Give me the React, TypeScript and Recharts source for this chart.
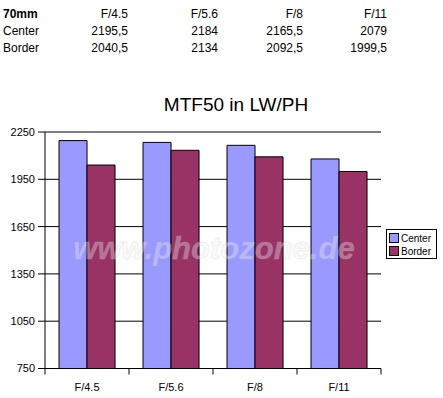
import React from 'react';
import { BarChart, Bar, XAxis, YAxis, CartesianGrid } from 'recharts';

const categories = ['F/4.5', 'F/5.6', 'F/8', 'F/11'];
const centerValues = [2195.5, 2184, 2165.5, 2079];
const borderValues = [2040.5, 2134, 2092.5, 1999.5];
const yTicks = [750, 1050, 1350, 1650, 1950, 2250];
const seriesNames = ['Center', 'Border'];
const focalLabel = '70mm';
const chartTitle = 'MTF50 in LW/PH';
const watermark = 'www.photozone.de';

const data = categories.map((c, i) => ({ name: c, Center: centerValues[i], Border: borderValues[i] }));

const W = 443;
const H = 398;
const PLOT_LEFT = 45;
const PLOT_RIGHT = 381;
const PLOT_TOP = 132;
const PLOT_BOTTOM = 368.5;
const FONT = 'Arial, "Liberation Sans", Helvetica, sans-serif';
const COLORS = ['#9999FF', '#993366'];

const fmt = (v: number) => String(v).replace('.', ',');

const halfBand = (PLOT_RIGHT - PLOT_LEFT) / categories.length / 2;

const XTick = (props: any) => {
  const { x, y, payload, index } = props;
  return (
    <g>
      {index === 0 && (
        <line x1={x - halfBand} y1={PLOT_BOTTOM} x2={x - halfBand} y2={PLOT_BOTTOM + 6} stroke="#000" />
      )}
      <line x1={x + halfBand} y1={PLOT_BOTTOM} x2={x + halfBand} y2={PLOT_BOTTOM + 6} stroke="#000" />
      <text x={x} y={y + 14} textAnchor="middle" fontSize={11} fontFamily={FONT} fill="#000">
        {payload.value}
      </text>
    </g>
  );
};

const colRight = [128, 218, 303, 387];

export default function App() {
  return (
    <div style={{ position: 'absolute', left: 0, top: 0, width: W, height: H, background: '#fff' }}>
      <BarChart
        width={W}
        height={H}
        data={data}
        margin={{ top: PLOT_TOP, right: W - PLOT_RIGHT, bottom: 4.5, left: 5 }}
        barCategoryGap="16.7%"
        barGap={0}
      >
        <CartesianGrid horizontal vertical={false} stroke="#000" strokeWidth={1} />
        <XAxis
          dataKey="name"
          axisLine={{ stroke: '#000' }}
          tickLine={false}
          tick={<XTick />}
          height={25}
          interval={0}
        />
        <YAxis
          domain={[750, 2250]}
          ticks={yTicks}
          width={40}
          axisLine={{ stroke: '#000' }}
          tickLine={{ stroke: '#000' }}
          tickSize={7}
          tickMargin={3}
          tick={{ fontSize: 11, fontFamily: FONT, fill: '#000' }}
          interval={0}
        />
        <Bar dataKey="Center" fill={COLORS[0]} stroke="#000" strokeWidth={1} isAnimationActive={false} />
        <Bar dataKey="Border" fill={COLORS[1]} stroke="#000" strokeWidth={1} isAnimationActive={false} />
      </BarChart>
      <svg
        width={W}
        height={H}
        style={{ position: 'absolute', left: 0, top: 0, pointerEvents: 'none' }}
      >
        <g fontFamily={FONT} fontSize={12} fill="#000">
          <text x={3} y={18} fontWeight="bold">{focalLabel}</text>
          <text x={3} y={35}>Center</text>
          <text x={3} y={52}>Border</text>
          {categories.map((c, i) => (
            <g key={c}>
              <text x={colRight[i]} y={18} textAnchor="end">{c}</text>
              <text x={colRight[i]} y={35} textAnchor="end">{fmt(centerValues[i])}</text>
              <text x={colRight[i]} y={52} textAnchor="end">{fmt(borderValues[i])}</text>
            </g>
          ))}
        </g>
        <text x={236} y={111} textAnchor="middle" fontFamily={FONT} fontSize={19} fill="#000">
          {chartTitle}
        </text>
        <text
          x={214}
          y={259}
          textAnchor="middle"
          fontFamily={FONT}
          fontSize={31}
          fontWeight="bold"
          fontStyle="italic"
          fill="#f2f2ee"
          fillOpacity={0.35}
          stroke="#b8b8c8"
          strokeOpacity={0.22}
          strokeWidth={1}
        >
          {watermark}
        </text>
        <g>
          <rect x={386.5} y={229.5} width={50} height={29} fill="#fff" stroke="#000" />
          {seriesNames.map((s, i) => (
            <g key={s}>
              <rect x={389.5} y={233.5 + i * 13} width={9} height={9} fill={COLORS[i]} stroke="#000" />
              <text x={401} y={241.5 + i * 13} fontFamily={FONT} fontSize={10} fill="#000">
                {s}
              </text>
            </g>
          ))}
        </g>
      </svg>
    </div>
  );
}
